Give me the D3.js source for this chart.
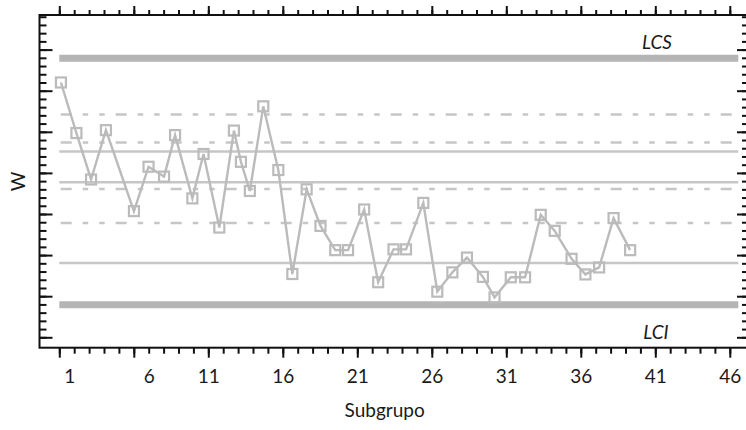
<!DOCTYPE html>
<html>
<head>
<meta charset="utf-8">
<script src="https://cdn.jsdelivr.net/npm/d3@7"></script>
<style>
body { margin: 0; background: #fff; }
svg { display: block; font-family: Lato, "Open Sans", sans-serif; }
</style>
</head>
<body>
<svg width="746" height="430"></svg>
<script>
// Subgroup positions and W values.
var subgroup = [1.11, 2.15, 3.13, 4.13, 6.01, 6.99, 8.03, 8.77, 9.93, 10.68,
    11.74, 12.72, 13.19, 13.79, 14.69, 15.70, 16.64, 17.60, 18.53, 19.52,
    20.38, 21.46, 22.40, 23.43, 24.27, 25.43, 26.37, 27.38, 28.36, 29.43,
    30.21, 31.30, 32.26, 33.31, 34.25, 35.38, 36.31, 37.23, 38.20, 39.31];
var w = [6.20, 4.97, 3.84, 5.04, 3.07, 4.15, 3.91, 4.92, 3.38, 4.46,
    2.67, 5.03, 4.27, 3.56, 5.62, 4.07, 1.54, 3.60, 2.71, 2.12,
    2.12, 3.11, 1.34, 2.14, 2.14, 3.27, 1.11, 1.58, 1.94, 1.47,
    0.97, 1.46, 1.46, 2.98, 2.59, 1.91, 1.53, 1.70, 2.90, 2.12];

// Control limits and zone lines.
var lcs = 6.79, lci = 0.79;
var solidLines = [4.52, 3.77, 1.81];
var dashedLines = [5.42, 4.74, 3.61, 2.78];
var lineStart = 1, lineEnd = 46.57;

// Axis ticks.
var xTickLabels = [1, 6, 11, 16, 21, 26, 31, 36, 41, 46];
var xMinorTicks = d3.range(1, 47);
var yMajorTicks = [0, 1, 2, 3, 4, 5, 6, 7];
var yMinorTicks = d3.range(0, 40).map(function (i) { return i / 5; });
var labelNudge = {1: 10, 6: 15};

var svg = d3.select("svg");
// note: "top" is taken by window.top, so the frame edges get their own names
var frameL = 39.5, frameR = 747, frameT = 15, frameB = 347.7;

var x = d3.scaleLinear().domain([1, 46]).range([59.3, 729.8]);
var y = d3.scaleLinear().domain([0, 7]).range([337.3, 49.6]);

var plot = svg.append("g");

// Thick control limits.
plot.selectAll("line.limit")
    .data([lcs, lci])
    .enter().append("line")
    .attr("class", "limit")
    .attr("x1", x(lineStart)).attr("x2", x(lineEnd))
    .attr("y1", function (d) { return y(d); })
    .attr("y2", function (d) { return y(d); })
    .attr("stroke", "#b5b5b5")
    .attr("stroke-width", 7);

plot.selectAll("line.solid")
    .data(solidLines)
    .enter().append("line")
    .attr("class", "solid")
    .attr("x1", x(lineStart)).attr("x2", x(lineEnd))
    .attr("y1", function (d) { return y(d); })
    .attr("y2", function (d) { return y(d); })
    .attr("stroke", "#c6c6c6")
    .attr("stroke-width", 2.5);

plot.selectAll("line.dashed")
    .data(dashedLines)
    .enter().append("line")
    .attr("class", "dashed")
    .attr("x1", x(lineStart)).attr("x2", x(lineEnd))
    .attr("y1", function (d) { return y(d); })
    .attr("y2", function (d) { return y(d); })
    .attr("stroke", "#c6c6c6")
    .attr("stroke-width", 2.5)
    .attr("stroke-dasharray", "11,11,5.5,11,5.5,11")
    .attr("stroke-dashoffset", -1.4);

// Data series.
var points = subgroup.map(function (s, i) { return [s, w[i]]; });
var line = d3.line()
    .x(function (d) { return x(d[0]); })
    .y(function (d) { return y(d[1]); });

plot.append("path")
    .datum(points)
    .attr("d", line)
    .attr("fill", "none")
    .attr("stroke", "#bbbbbb")
    .attr("stroke-width", 2.4);

plot.selectAll("rect.pt")
    .data(points)
    .enter().append("rect")
    .attr("class", "pt")
    .attr("x", function (d) { return x(d[0]) - 5; })
    .attr("y", function (d) { return y(d[1]) - 5; })
    .attr("width", 10)
    .attr("height", 10)
    .attr("fill", "none")
    .attr("stroke", "#bbbbbb")
    .attr("stroke-width", 2.2);

// Axes on all four sides, ticks like the original.
function styleAxis(g) {
    g.select(".domain").remove();
    g.selectAll(".tick line").attr("stroke", "#111").attr("stroke-width", 2);
}

svg.append("g")
    .attr("transform", "translate(0," + frameB + ")")
    .call(d3.axisBottom(x).tickValues(xMinorTicks).tickSize(6).tickFormat(""))
    .call(styleAxis);
var xAxis = svg.append("g")
    .attr("transform", "translate(0," + frameB + ")")
    .call(d3.axisBottom(x).tickValues(xTickLabels).tickSize(10).tickPadding(12))
    .call(styleAxis);
xAxis.selectAll(".tick text")
    .attr("dx", function (d) { return labelNudge[d] || 0; })
    .attr("fill", "#1a1a1a")
    .style("font-size", "19px")
    .style("font-family", "Lato, 'Open Sans', sans-serif");

svg.append("g")
    .attr("transform", "translate(0," + frameT + ")")
    .call(d3.axisTop(x).tickValues(xMinorTicks).tickSize(5).tickFormat(""))
    .call(styleAxis);
svg.append("g")
    .attr("transform", "translate(0," + frameT + ")")
    .call(d3.axisTop(x).tickValues(xTickLabels).tickSize(9).tickFormat(""))
    .call(styleAxis);

svg.append("g")
    .attr("transform", "translate(" + frameL + ",0)")
    .call(d3.axisRight(y).tickValues(yMinorTicks).tickSize(7).tickFormat(""))
    .call(styleAxis);
svg.append("g")
    .attr("transform", "translate(" + frameL + ",0)")
    .call(d3.axisRight(y).tickValues(yMajorTicks).tickSize(13).tickFormat(""))
    .call(styleAxis);

svg.append("g")
    .attr("transform", "translate(" + frameR + ",0)")
    .call(d3.axisLeft(y).tickValues(yMinorTicks).tickSize(5).tickFormat(""))
    .call(styleAxis);
svg.append("g")
    .attr("transform", "translate(" + frameR + ",0)")
    .call(d3.axisLeft(y).tickValues(yMajorTicks).tickSize(10).tickFormat(""))
    .call(styleAxis);

svg.append("rect")
    .attr("x", frameL).attr("y", frameT)
    .attr("width", frameR - frameL).attr("height", frameB - frameT)
    .attr("fill", "none")
    .attr("stroke", "#111")
    .attr("stroke-width", 2);

// Labels.
svg.append("text")
    .attr("x", 657).attr("y", 49)
    .attr("text-anchor", "middle")
    .attr("font-style", "italic")
    .attr("font-size", 19)
    .attr("fill", "#1a1a1a")
    .text("LCS");
svg.append("text")
    .attr("x", 656).attr("y", 339)
    .attr("text-anchor", "middle")
    .attr("font-style", "italic")
    .attr("font-size", 19)
    .attr("fill", "#1a1a1a")
    .text("LCI");

svg.append("text")
    .attr("x", (frameL + x(46)) / 2).attr("y", 417)
    .attr("text-anchor", "middle")
    .attr("font-size", 19)
    .attr("fill", "#1a1a1a")
    .text("Subgrupo");

svg.append("text")
    .attr("transform", "translate(25," + ((frameT + frameB) / 2) + ") rotate(-90)")
    .attr("text-anchor", "middle")
    .attr("font-size", 19)
    .attr("fill", "#1a1a1a")
    .text("W");
</script>
</body>
</html>
